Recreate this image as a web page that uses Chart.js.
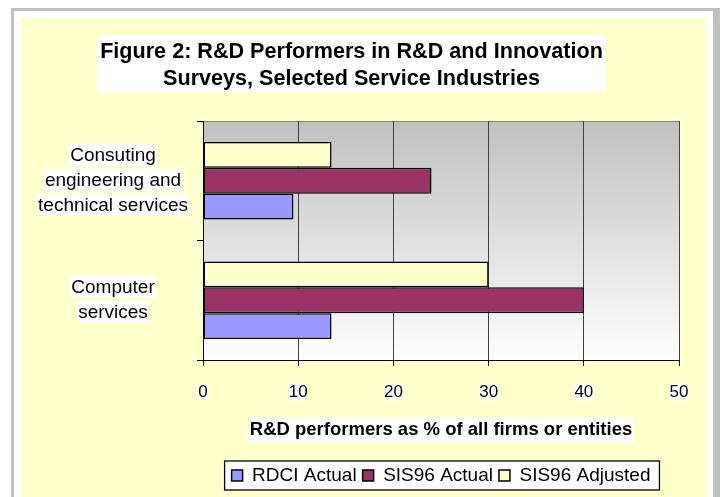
<!DOCTYPE html>
<html lang="en">
<head>
<meta charset="UTF-8">
<title>Figure 2: R&amp;D Performers in R&amp;D and Innovation Surveys</title>
<style>
  html, body { margin: 0; padding: 0; background: #fff; overflow: hidden; }
  #frame {
    position: absolute; left: 11px; top: 8px;
    border: 3px solid #c0c0c0; border-right-width: 7px;
    padding: 7px; background: #fff;
  }
  #panel { width: 685px; height: 479px; background: #ffffcc; }
</style>
<script src="https://cdn.jsdelivr.net/npm/chart.js"></script>
</head>
<body>
<div id="frame"><div id="panel"><canvas id="rdChart" width="685" height="479"></canvas></div></div>
<script>
// values in %, one per industry
const categories = [['Consuting', 'engineering and', 'technical services'], ['Computer', 'services']];
const rdciActual = [9.5, 13.5];
const sis96Actual = [24, 40];
const sis96Adjusted = [13.5, 30];
const xTicks = [0, 10, 20, 30, 40, 50];

const titleLines = ['Figure 2: R&D Performers in R&D and Innovation', 'Surveys, Selected Service Industries'];
const axisTitle = 'R&D performers as % of all firms or entities';

const FONT = "'Liberation Sans', Arial, Helvetica, sans-serif";
const TITLE_SIZE = 21.6, TITLE_LH = 27, TITLE_PAD = {top: 21, bottom: 28};
const CAT_SIZE = 19, CAT_LH = 24.7, CAT_PAD = 9, TICK_LEN = 6;
const AXT_SIZE = 18.5, AXT_PAD = 19;

// white boxes behind the texts, shaded plot area, framed legend
const backdrops = {
  id: 'backdrops',
  beforeDraw(chart) {
    const {ctx, chartArea: a} = chart;
    ctx.save();
    const g = ctx.createLinearGradient(0, a.top, 0, a.bottom);
    g.addColorStop(0, '#c0c0c0');
    g.addColorStop(1, '#ffffff');
    ctx.fillStyle = g;
    ctx.fillRect(a.left, a.top, a.right - a.left, a.bottom - a.top);
    ctx.strokeStyle = '#808080';
    ctx.lineWidth = 1;
    ctx.beginPath();
    ctx.moveTo(a.left, a.top + 0.5);
    ctx.lineTo(a.right, a.top + 0.5);
    ctx.stroke();

    ctx.fillStyle = '#ffffff';
    // title
    const t = chart.titleBlock;
    ctx.font = `bold ${TITLE_SIZE}px ${FONT}`;
    const tw = Math.max(...titleLines.map(s => ctx.measureText(s).width));
    const ty = t.top + TITLE_PAD.top;
    ctx.fillRect(t.left + t.width / 2 - tw / 2 - 3, ty - 4, tw + 6, titleLines.length * TITLE_LH + 3);

    // category labels, one box per line
    const y = chart.scales.y;
    ctx.font = `${CAT_SIZE}px ${FONT}`;
    const widest = Math.max(...categories.flat().map(s => ctx.measureText(s).width));
    const cx = y.right - TICK_LEN - CAT_PAD - widest / 2;
    categories.forEach((lines, i) => {
      const py = y.getPixelForTick(i);
      lines.forEach((s, j) => {
        const w = ctx.measureText(s).width;
        const ly = py + (j - (lines.length - 1) / 2) * CAT_LH;
        ctx.fillRect(cx - w / 2 - 1, ly - 12, w + 2, 22);
      });
    });

    // x axis title
    const x = chart.scales.x;
    ctx.font = `bold ${AXT_SIZE}px ${FONT}`;
    const aw = ctx.measureText(axisTitle).width;
    const ay = x.bottom - AXT_PAD - AXT_SIZE * 1.2 / 2;
    ctx.fillRect((x.left + x.right) / 2 - aw / 2 - 1, ay - 12.5, aw + 2, 25);

    // legend frame
    const hb = chart.legend.legendHitBoxes;
    if (hb && hb.length) {
      const l = Math.min(...hb.map(b => b.left)) - 7;
      const r = Math.max(...hb.map(b => b.left + b.width)) + 9;
      const top = hb[0].top + hb[0].height / 2 - 14.5;
      ctx.fillRect(l, top, r - l, 29);
      ctx.strokeStyle = '#000';
      ctx.lineWidth = 1.3;
      ctx.strokeRect(l, top, r - l, 29);
    }
    ctx.restore();
  }
};

Chart.defaults.font.family = FONT;
Chart.defaults.color = '#000';

const barStyle = {borderColor: '#000', borderWidth: 1.5, borderSkipped: false,
  categoryPercentage: 0.65, barPercentage: 1};

new Chart(document.getElementById('rdChart'), {
  type: 'bar',
  data: {
    labels: categories,
    datasets: [
      {label: 'SIS96 Adjusted', data: sis96Adjusted, backgroundColor: '#ffffcc', ...barStyle},
      {label: 'SIS96 Actual', data: sis96Actual, backgroundColor: '#993366', ...barStyle},
      {label: 'RDCI Actual', data: rdciActual, backgroundColor: '#9999ff', ...barStyle}
    ]
  },
  options: {
    indexAxis: 'y',
    responsive: false,
    animation: false,
    layout: {padding: {top: 0, right: 24, bottom: 2, left: 0}},
    scales: {
      x: {
        min: xTicks[0],
        max: xTicks[xTicks.length - 1],
        ticks: {
          stepSize: xTicks[1] - xTicks[0],
          font: {size: 17, lineHeight: 1},
          padding: 17.5,
          showLabelBackdrop: true,
          backdropColor: '#ffffff',
          backdropPadding: {top: 0, bottom: 0, left: 0, right: 0}
        },
        grid: {color: '#404040', tickColor: '#000', tickLength: TICK_LEN, lineWidth: 1},
        border: {color: '#000', width: 1},
        title: {
          display: true,
          text: axisTitle,
          font: {size: AXT_SIZE, weight: 'bold', lineHeight: 1.2},
          padding: {top: 0, bottom: AXT_PAD}
        },
        afterFit: s => { s.height = 100; }
      },
      y: {
        ticks: {
          font: {size: CAT_SIZE, lineHeight: CAT_LH / CAT_SIZE},
          crossAlign: 'center',
          padding: CAT_PAD
        },
        grid: {drawOnChartArea: false, color: '#000', tickLength: TICK_LEN},
        border: {color: '#000', width: 1},
        afterFit: s => { s.width = 182; }
      }
    },
    plugins: {
      title: {
        display: true,
        text: titleLines,
        font: {size: TITLE_SIZE, weight: 'bold', lineHeight: TITLE_LH / TITLE_SIZE},
        padding: TITLE_PAD
      },
      legend: {
        position: 'bottom',
        fullSize: false,
        reverse: true,
        labels: {font: {size: 19}, boxWidth: 11, boxHeight: 11, padding: 6}
      },
      tooltip: {enabled: false}
    }
  },
  plugins: [backdrops]
});
</script>
</body>
</html>
